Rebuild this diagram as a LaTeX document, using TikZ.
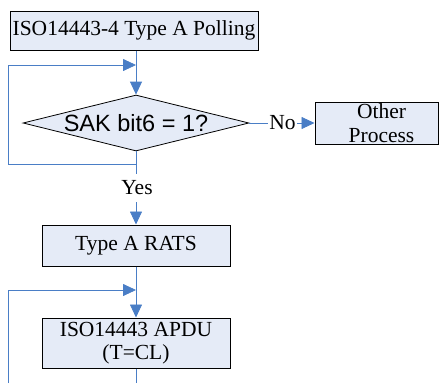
\documentclass[tikz,border=0pt]{standalone}
\usepackage{fontspec}
\setmainfont{Liberation Serif}
\newfontfamily\sakfont{Liberation Sans}
\usetikzlibrary{shapes.geometric,arrows.meta}

\definecolor{boxfill}{HTML}{E5EBF7}
\definecolor{flowblue}{HTML}{4A7EC6}

\begin{document}
\begin{tikzpicture}[x=1pt,y=-1pt,
  procbox/.style={draw=black,line width=1pt,fill=boxfill,inner sep=0pt,
    align=center,font=\fontsize{21.5}{23}\selectfont},
  decision/.style={diamond,draw=black,line width=0.8pt,fill=boxfill,inner sep=0pt,
    font=\sakfont\fontsize{23.5}{24}\selectfont},
  flowlabel/.style={inner sep=1pt,font=\fontsize{21.5}{23}\selectfont},
  flow/.style={draw=flowblue,line width=0.8pt},
  flowarrow/.style={flow,-{Triangle[length=13pt,width=12pt]}}]
\useasboundingbox (0,0) rectangle (441,383);

% process steps
\node[procbox,minimum width=248pt,minimum height=39pt] (poll) at (134,30.5)
  {ISO14443-4 Type A Polling};
\node[decision,minimum width=226pt,minimum height=56pt] (dec) at (136,123)
  {\makebox[0pt]{SAK bit6 = 1?}};
\node[procbox,minimum width=123pt,minimum height=42pt,
  font=\fontsize{21.5}{24}\selectfont] (other) at (376.5,123)
  {\hspace*{10pt}Other\\\hspace*{10pt}Process};
\node[procbox,minimum width=188pt,minimum height=41pt] (rats) at (136,245.5)
  {Type A RATS};
\node[procbox,minimum width=188pt,minimum height=50pt] (apdu) at (136,343)
  {ISO14443 APDU\\(T=CL)};

% branch labels
\node[flowlabel,minimum height=28pt,inner sep=0pt] (yes) at (137,188) {Yes};
\node[flowlabel,inner sep=1pt] (no) at (282.5,123) {No};

% junctions and loop corners
\coordinate (j1) at (136,65);
\coordinate (l1) at (8,164);
\coordinate (j2) at (136,290);
\coordinate (l2) at (8,383);
\coordinate (bot) at (136,383);

% connectors
\draw[flowarrow] (poll.south -| dec.north) -- (dec.north);
\draw[flowarrow] (dec.south) |- (l1) |- (j1);
\draw[flow] (dec.south) -- (dec.south |- yes.north);
\draw[flowarrow] (dec.south |- yes.south) -- (rats.north);
\draw[flow] (dec.east) -- (no.west);
\draw[flowarrow] (no.east) -- (other.west);
\draw[flowarrow] (rats.south) -- (apdu.north);
\draw[flowarrow] (l2) |- (j2);
\draw[flow] (apdu.south) -- (bot);
\end{tikzpicture}
\end{document}
